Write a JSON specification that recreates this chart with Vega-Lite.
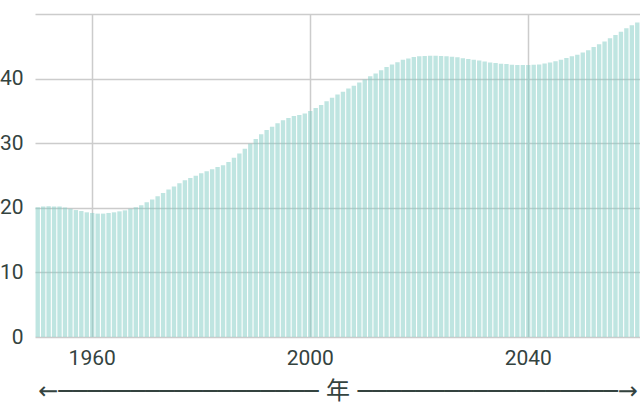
{
  "$schema": "https://vega.github.io/schema/vega-lite/v6.json",
  "width": 605,
  "height": 323,
  "autosize": {"type": "none"},
  "padding": {"left": 35, "top": 14, "right": 0, "bottom": 83},
  "background": "white",
  "config": {"view": {"stroke": null}},
  "data": {"values": [
    {"year": 1950, "v": 20.1}, {"year": 1951, "v": 20.2}, {"year": 1952, "v": 20.25}, {"year": 1953, "v": 20.2}, {"year": 1954, "v": 20.2},
    {"year": 1955, "v": 20.05}, {"year": 1956, "v": 19.85}, {"year": 1957, "v": 19.65}, {"year": 1958, "v": 19.5}, {"year": 1959, "v": 19.3},
    {"year": 1960, "v": 19.2}, {"year": 1961, "v": 19.1}, {"year": 1962, "v": 19.1}, {"year": 1963, "v": 19.2}, {"year": 1964, "v": 19.3},
    {"year": 1965, "v": 19.45}, {"year": 1966, "v": 19.6}, {"year": 1967, "v": 19.85}, {"year": 1968, "v": 20.1}, {"year": 1969, "v": 20.4},
    {"year": 1970, "v": 20.85}, {"year": 1971, "v": 21.3}, {"year": 1972, "v": 21.8}, {"year": 1973, "v": 22.3}, {"year": 1974, "v": 22.85},
    {"year": 1975, "v": 23.3}, {"year": 1976, "v": 23.8}, {"year": 1977, "v": 24.25}, {"year": 1978, "v": 24.6}, {"year": 1979, "v": 24.95},
    {"year": 1980, "v": 25.35}, {"year": 1981, "v": 25.65}, {"year": 1982, "v": 25.95}, {"year": 1983, "v": 26.3}, {"year": 1984, "v": 26.6},
    {"year": 1985, "v": 27.1}, {"year": 1986, "v": 27.75}, {"year": 1987, "v": 28.4}, {"year": 1988, "v": 29.15}, {"year": 1989, "v": 29.9},
    {"year": 1990, "v": 30.65}, {"year": 1991, "v": 31.4}, {"year": 1992, "v": 32.05}, {"year": 1993, "v": 32.55}, {"year": 1994, "v": 33.1},
    {"year": 1995, "v": 33.55}, {"year": 1996, "v": 33.9}, {"year": 1997, "v": 34.2}, {"year": 1998, "v": 34.35}, {"year": 1999, "v": 34.6},
    {"year": 2000, "v": 35.0}, {"year": 2001, "v": 35.45}, {"year": 2002, "v": 35.9}, {"year": 2003, "v": 36.5}, {"year": 2004, "v": 37.05},
    {"year": 2005, "v": 37.55}, {"year": 2006, "v": 37.97}, {"year": 2007, "v": 38.45}, {"year": 2008, "v": 38.9}, {"year": 2009, "v": 39.4},
    {"year": 2010, "v": 39.85}, {"year": 2011, "v": 40.35}, {"year": 2012, "v": 40.8}, {"year": 2013, "v": 41.3}, {"year": 2014, "v": 41.8},
    {"year": 2015, "v": 42.2}, {"year": 2016, "v": 42.55}, {"year": 2017, "v": 42.9}, {"year": 2018, "v": 43.1}, {"year": 2019, "v": 43.35},
    {"year": 2020, "v": 43.45}, {"year": 2021, "v": 43.5}, {"year": 2022, "v": 43.55}, {"year": 2023, "v": 43.55}, {"year": 2024, "v": 43.5},
    {"year": 2025, "v": 43.45}, {"year": 2026, "v": 43.4}, {"year": 2027, "v": 43.3}, {"year": 2028, "v": 43.15}, {"year": 2029, "v": 43.05},
    {"year": 2030, "v": 42.9}, {"year": 2031, "v": 42.8}, {"year": 2032, "v": 42.65}, {"year": 2033, "v": 42.5}, {"year": 2034, "v": 42.4},
    {"year": 2035, "v": 42.3}, {"year": 2036, "v": 42.25}, {"year": 2037, "v": 42.15}, {"year": 2038, "v": 42.1}, {"year": 2039, "v": 42.1},
    {"year": 2040, "v": 42.1}, {"year": 2041, "v": 42.15}, {"year": 2042, "v": 42.2}, {"year": 2043, "v": 42.35}, {"year": 2044, "v": 42.5},
    {"year": 2045, "v": 42.7}, {"year": 2046, "v": 42.9}, {"year": 2047, "v": 43.2}, {"year": 2048, "v": 43.45}, {"year": 2049, "v": 43.7},
    {"year": 2050, "v": 44.05}, {"year": 2051, "v": 44.4}, {"year": 2052, "v": 44.9}, {"year": 2053, "v": 45.3}, {"year": 2054, "v": 45.75},
    {"year": 2055, "v": 46.25}, {"year": 2056, "v": 46.75}, {"year": 2057, "v": 47.25}, {"year": 2058, "v": 47.8}, {"year": 2059, "v": 48.25},
    {"year": 2060, "v": 48.7}
  ]},
  "mark": {"type": "bar", "color": "#80cbc4", "opacity": 0.5},
  "encoding": {
    "x": {
      "field": "year",
      "type": "ordinal",
      "scale": {"paddingInner": 0.2, "paddingOuter": 0.1},
      "axis": {
        "values": [1960, 2000, 2040],
        "bandPosition": 0.5,
        "grid": true,
        "gridColor": "#cccccc",
        "gridWidth": 1.5,
        "domain": false,
        "ticks": false,
        "labelAngle": 0,
        "labelFont": "Roboto",
        "labelFontSize": 21,
        "labelColor": "#34433f",
        "labelPadding": 10,
        "title": "←────────────────── 年 ──────────────────→",
        "titleFont": "DejaVu Sans, Noto Sans CJK JP",
        "titleFontSize": 24,
        "titleFontWeight": "normal",
        "titleColor": "#34433f",
        "titlePadding": 11
      }
    },
    "y": {
      "field": "v",
      "type": "quantitative",
      "scale": {"domain": [0, 50]},
      "axis": {
        "values": [0, 10, 20, 30, 40, 50],
        "labelExpr": "datum.value == 50 ? '' : datum.label",
        "grid": true,
        "gridColor": "#cccccc",
        "gridWidth": 1.5,
        "domain": false,
        "ticks": false,
        "labelFont": "Roboto",
        "labelFontSize": 21,
        "labelColor": "#34433f",
        "labelPadding": 12,
        "title": null
      }
    }
  }
}
